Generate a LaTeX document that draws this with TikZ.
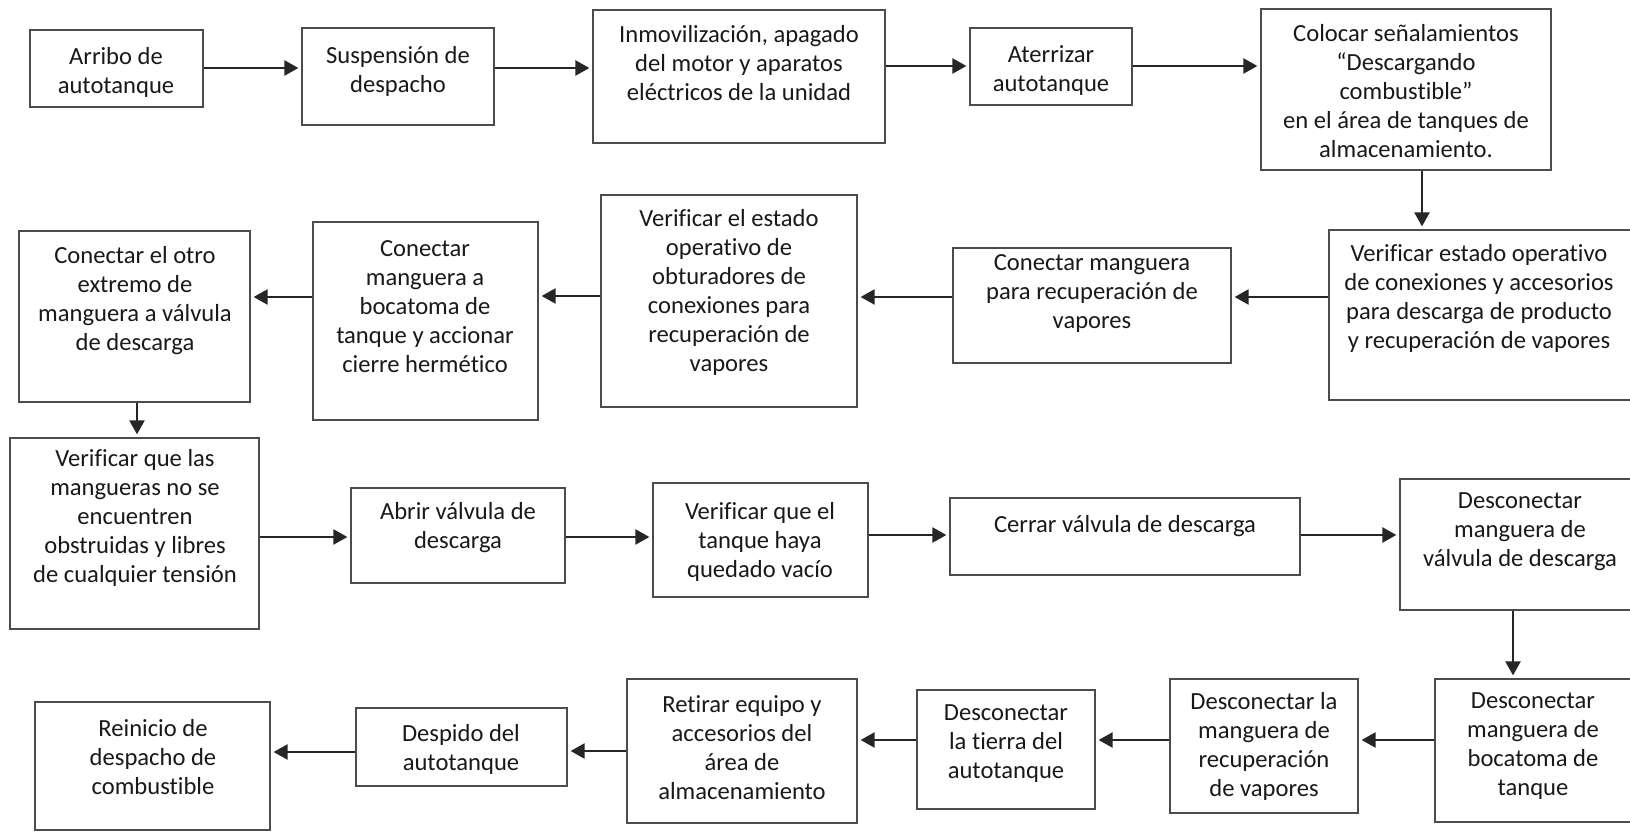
\documentclass[tikz,border=0pt]{standalone}
\usepackage{fontspec}
\setmainfont[Ligatures={NoCommon}]{Carlito}
\usetikzlibrary{arrows.meta}
\newcommand\bx[5]{\node[box, minimum width={(#4-#2)*0.5pt}, minimum height={(#5-#3)*0.5pt}] (#1) at ({(#2+#4)/2},{(#3+#5)/2}) {};}
\tikzset{
  box/.style={draw=black!70, line width=0.6pt, inner sep=0pt, fill=white},
  txt/.style={align=center, font=\fontsize{12.3}{14.5}\selectfont, text=black!90, inner sep=0pt},
  arr/.style={draw=black!85, line width=1.1pt, -{Triangle[length=7pt,width=7.5pt]}, shorten >=1.5pt}
}
\begin{document}
\begin{tikzpicture}[x=0.5pt, y=-0.5pt]
\useasboundingbox (0,0) rectangle (1630,834);
\fill[white] (0,0) rectangle (1630,834);
\clip (0,0) rectangle (1630,834);

% row 1
\bx{arribo}{30}{30}{203}{107}
\node[txt] (arribo-t) at (116,72) {Arribo de\\autotanque};
\bx{susp}{302}{28}{494}{125}
\node[txt] (susp-t) at (398,71) {Suspensión de\\despacho};
\bx{inmov}{593}{10}{885}{143}
\node[txt] (inmov-t) at (739,63) {Inmovilización, apagado\\del motor y aparatos\\eléctricos de la unidad};
\bx{ater}{970}{28}{1132}{105}
\node[txt] (ater-t) at (1051,71) {Aterrizar\\autotanque};
\bx{coloc}{1261}{9}{1551}{170}
\node[txt] (coloc-t) at (1406,91) {Colocar señalamientos\\“Descargando\\combustible”\\en el área de tanques de\\almacenamiento.};

% row 2
\bx{verop}{1329}{230}{1634}{400}
\node[txt] (verop-t) at (1479,298) {Verificar estado operativo\\de conexiones y accesorios\\para descarga de producto\\y recuperación de vapores};
\bx{conrec}{953}{248}{1231}{363}
\node[txt] (conrec-t) at (1092,294) {Conectar manguera\\para recuperación de\\vapores};
\bx{obtur}{601}{195}{857}{407}
\node[txt] (obtur-t) at (729,292) {Verificar el estado\\operativo de\\obturadores de\\conexiones para\\recuperación de\\vapores};
\bx{boca}{313}{222}{538}{420}
\node[txt] (boca-t) at (425,307) {Conectar\\manguera a\\bocatoma de\\tanque y accionar\\cierre hermético};
\bx{otro}{19}{231}{250}{402}
\node[txt] (otro-t) at (135,301) {Conectar el otro\\extremo de\\manguera a válvula\\de descarga};

% row 3
\bx{mang}{10}{438}{259}{629}
\node[txt] (mang-t) at (135,518) {Verificar que las\\mangueras no se\\encuentren\\obstruidas y libres\\de cualquier tensión};
\bx{abrir}{351}{488}{565}{583}
\node[txt] (abrir-t) at (458,528) {Abrir válvula de\\descarga};
\bx{vtanq}{653}{483}{868}{597}
\node[txt] (vtanq-t) at (760,542) {Verificar que el\\tanque haya\\quedado vacío};
\bx{cerrar}{950}{498}{1300}{575}
\node[txt] (cerrar-t) at (1125,526) {Cerrar válvula de descarga};
\bx{dval}{1400}{479}{1640}{610}
\node[txt] (dval-t) at (1520,532) {Desconectar\\manguera de\\válvula de descarga};

% row 4
\bx{dboca}{1435}{679}{1634}{822}
\node[txt] (dboca-t) at (1533,746) {Desconectar\\manguera de\\bocatoma de\\tanque};
\bx{drec}{1170}{679}{1358}{813}
\node[txt] (drec-t) at (1264,746) {Desconectar la\\manguera de\\recuperación\\de vapores};
\bx{tierra}{917}{690}{1095}{809}
\node[txt] (tierra-t) at (1006,744) {Desconectar\\la tierra del\\autotanque};
\bx{retirar}{627}{679}{857}{823}
\node[txt] (retirar-t) at (742,748) {Retirar equipo y\\accesorios del\\área de\\almacenamiento};
\bx{despido}{356}{708}{567}{786}
\node[txt] (despido-t) at (461,749) {Despido del\\autotanque};
\bx{reinicio}{35}{702}{270}{830}
\node[txt] (reinicio-t) at (153,757) {Reinicio de\\despacho de\\combustible};

% connectors
\draw[arr] (arribo.east |- 0,68) -- (susp.west |- 0,68);
\draw[arr] (susp.east |- 0,68) -- (inmov.west |- 0,68);
\draw[arr] (inmov.east |- 0,66) -- (ater.west |- 0,66);
\draw[arr] (ater.east |- 0,66) -- (coloc.west |- 0,66);
\draw[arr] (coloc.south -| 1422,0) -- (verop.north -| 1422,0);
\draw[arr] (verop.west |- 0,297) -- (conrec.east |- 0,297);
\draw[arr] (conrec.west |- 0,297) -- (obtur.east |- 0,297);
\draw[arr] (obtur.west |- 0,296) -- (boca.east |- 0,296);
\draw[arr] (boca.west |- 0,297) -- (otro.east |- 0,297);
\draw[arr] (otro.south -| 137,0) -- (mang.north -| 137,0);
\draw[arr] (mang.east |- 0,537) -- (abrir.west |- 0,537);
\draw[arr] (abrir.east |- 0,537) -- (vtanq.west |- 0,537);
\draw[arr] (vtanq.east |- 0,535) -- (cerrar.west |- 0,535);
\draw[arr] (cerrar.east |- 0,535) -- (dval.west |- 0,535);
\draw[arr] (dval.south -| 1513,0) -- (dboca.north -| 1513,0);
\draw[arr] (dboca.west |- 0,740) -- (drec.east |- 0,740);
\draw[arr] (drec.west |- 0,740) -- (tierra.east |- 0,740);
\draw[arr] (tierra.west |- 0,740) -- (retirar.east |- 0,740);
\draw[arr] (retirar.west |- 0,751) -- (despido.east |- 0,751);
\draw[arr] (despido.west |- 0,752) -- (reinicio.east |- 0,752);
\end{tikzpicture}
\end{document}
